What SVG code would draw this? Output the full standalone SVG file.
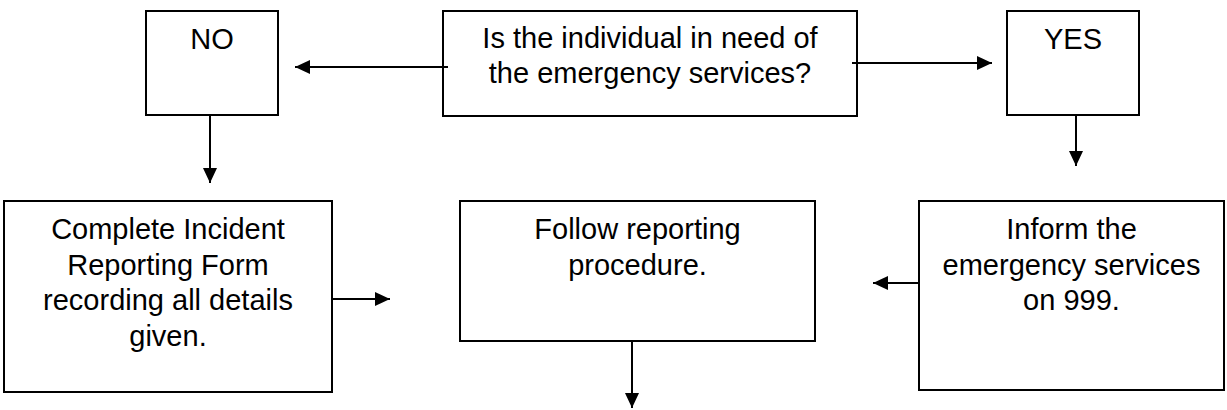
<svg xmlns="http://www.w3.org/2000/svg" width="1227" height="410" viewBox="0 0 1227 410">
<style>
.box{fill:#fff;stroke:#000;stroke-width:2}
.t{font-family:"Liberation Sans",Arial,sans-serif;font-size:29px;fill:#000;text-anchor:middle}
.c{stroke:#000;stroke-width:2;fill:none;marker-end:url(#ah)}
</style>
<defs>
<marker id="ah" markerUnits="userSpaceOnUse" markerWidth="16" markerHeight="16" viewBox="0 0 16 16" refX="15" refY="8" orient="auto">
<polygon points="0,1 15,8 0,15" fill="#000"/>
</marker>
</defs>
<rect width="1227" height="410" fill="#fff"/>
<g id="q">
<rect class="box" x="443" y="11" width="414" height="105"/>
<text class="t" x="650" y="48">Is the individual in need of</text>
<text class="t" x="650" y="83">the emergency services?</text>
</g>
<g id="no">
<rect class="box" x="146" y="11" width="132" height="104"/>
<text class="t" x="212" y="49">NO</text>
</g>
<g id="yes">
<rect class="box" x="1007" y="11" width="132" height="104"/>
<text class="t" x="1073" y="49">YES</text>
</g>
<g id="complete">
<rect class="box" x="4" y="201" width="328" height="191"/>
<text class="t" x="168" y="239">Complete Incident</text>
<text class="t" x="168" y="275">Reporting Form</text>
<text class="t" x="168" y="310">recording all details</text>
<text class="t" x="168" y="346">given.</text>
</g>
<g id="follow">
<rect class="box" x="460" y="201" width="355" height="140"/>
<text class="t" x="637.5" y="239">Follow reporting</text>
<text class="t" x="637.5" y="275">procedure.</text>
</g>
<g id="inform">
<rect class="box" x="919" y="201" width="305" height="189"/>
<text class="t" x="1071.5" y="239">Inform the</text>
<text class="t" x="1071.5" y="275">emergency services</text>
<text class="t" x="1071.5" y="310">on 999.</text>
</g>
<g id="connectors">
<line class="c" x1="448" y1="67" x2="295" y2="67"/>
<line class="c" x1="852" y1="63" x2="992" y2="63"/>
<line class="c" x1="210" y1="115" x2="210" y2="183"/>
<line class="c" x1="1076" y1="115" x2="1076" y2="166"/>
<line class="c" x1="332" y1="299" x2="390" y2="299"/>
<line class="c" x1="919" y1="283" x2="873" y2="283"/>
<line class="c" x1="632" y1="341" x2="632" y2="408"/>
</g>
</svg>
